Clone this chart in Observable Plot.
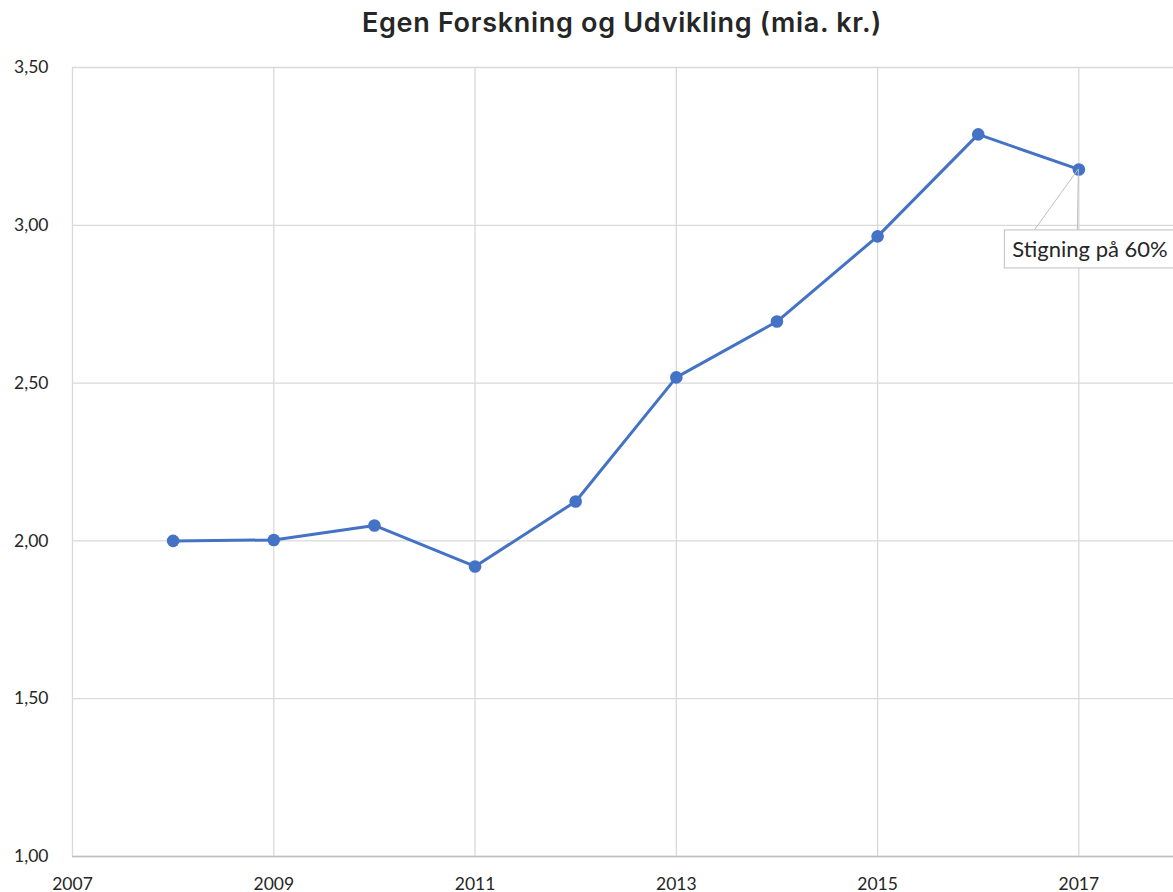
<!DOCTYPE html>
<html>
<head>
<meta charset="utf-8">
<script src="https://cdn.jsdelivr.net/npm/d3@7"></script>
<script src="https://cdn.jsdelivr.net/npm/@observablehq/plot@0.6"></script>
<style>
  html, body { margin: 0; padding: 0; background: #fff; }
  #title { position: relative; height: 50px; width: 1173px; }
  #title span { position: absolute; left: 622px; top: 6px; transform: translateX(-50%); white-space: nowrap;
    font-family: Inter, sans-serif; font-weight: 600; font-size: 27px; letter-spacing: 0.7px; color: #262626; }
  #chart svg { display: block; overflow: visible; }
</style>
</head>
<body>
<div id="title"><span>Egen Forskning og Udvikling (mia. kr.)</span></div>
<div id="chart"></div>
<script>
const years = [2008, 2009, 2010, 2011, 2012, 2013, 2014, 2015, 2016, 2017];
const values = [2.00, 2.003, 2.049, 1.919, 2.125, 2.518, 2.695, 2.965, 3.288, 3.177];
const xTicks = [2007, 2009, 2011, 2013, 2015, 2017];
const yTicks = [1.0, 1.5, 2.0, 2.5, 3.0, 3.5];
const annotationText = "Stigning på 60%";
const annotationYear = 2017;

const data = years.map((year, i) => ({year, value: values[i]}));
const fmtX = d => String(d);
const fmtY = d => d3.format(".2f")(d).replace(".", ",");

const callout = (index, scales, vals, dims, context) => {
  const d = data.find(e => e.year === annotationYear);
  const px = scales.x(d.year), py = scales.y(d.value);
  const g = d3.create("svg:g");
  const boxL = px - 74, boxT = py + 61, boxH = 38, boxW = 175;
  g.append("rect").attr("x", boxL).attr("y", boxT).attr("width", boxW).attr("height", boxH)
    .attr("fill", "#fff").attr("stroke", "#bfbfbf").attr("stroke-width", 1);
  g.append("path")
    .attr("d", `M${px},${py} L${px - 44},${boxT} M${px},${py} L${px - 1},${boxT}`)
    .attr("stroke", "#bfbfbf").attr("fill", "none").attr("stroke-width", 1);
  g.append("text").attr("x", boxL + 8).attr("y", boxT + 27)
    .attr("text-anchor", "start")
    .attr("font-family", "Lato, sans-serif").attr("font-size", 22).attr("fill", "#262626")
    .text(annotationText);
  return g.node();
};

const chart = Plot.plot({
  width: 1173,
  height: 842,
  marginTop: 17,
  marginBottom: 36,
  marginLeft: 72,
  marginRight: 0,
  style: {fontFamily: "Lato, sans-serif", fontSize: "17.5px", color: "#262626", background: "#fff"},
  x: {domain: [2007, 2018], range: [72, 1179], label: null},
  y: {domain: [1.0, 3.5], label: null},
  marks: [
    Plot.gridX(xTicks, {stroke: "#d9d9d9", strokeOpacity: 1, strokeWidth: 1.3}),
    Plot.gridY(yTicks, {stroke: "#d9d9d9", strokeOpacity: 1, strokeWidth: 1.3}),
    Plot.ruleY([1.0], {stroke: "#bfbfbf", strokeWidth: 1.3}),
    Plot.axisX(xTicks, {tickFormat: fmtX, tickSize: 0, tickPadding: 21, fontSize: 17.5, fill: "#262626", label: null}),
    Plot.axisY(yTicks, {tickFormat: fmtY, tickSize: 0, tickPadding: 24, fontSize: 17.5, fill: "#262626", label: null}),
    Plot.line(data, {x: "year", y: "value", stroke: "#4472C4", strokeWidth: 3}),
    Plot.dot(data, {x: "year", y: "value", fill: "#4472C4", r: 6.3}),
    callout
  ]
});
document.getElementById("chart").appendChild(chart);
</script>
</body>
</html>
